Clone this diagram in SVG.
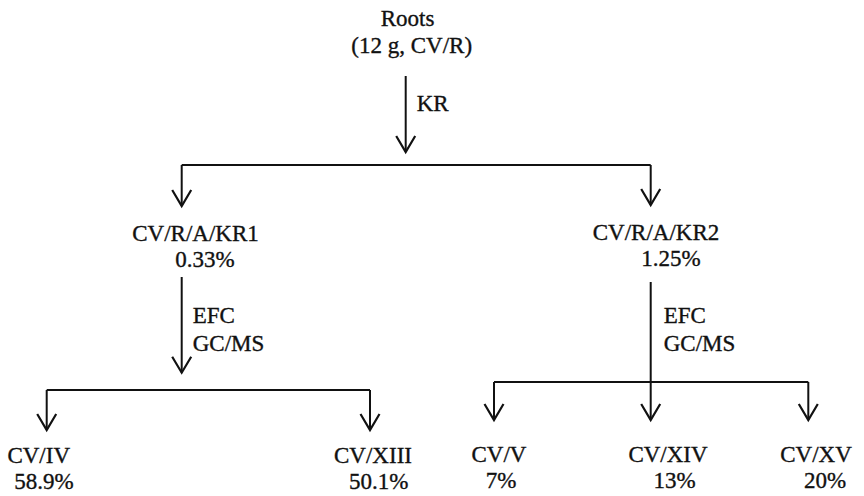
<svg xmlns="http://www.w3.org/2000/svg" width="864" height="496" viewBox="0 0 864 496">
<style>
text{font-family:"Liberation Serif","Times New Roman","DejaVu Serif",serif;font-size:23px;fill:#111;stroke:#111;stroke-width:0.35}
.c{text-anchor:middle}
.ln{fill:none;stroke:#111;stroke-width:2}
.ar{marker-end:url(#ah)}
</style>
<defs>
<marker id="ah" markerUnits="userSpaceOnUse" viewBox="-20 -20 40 40" markerWidth="40" markerHeight="40" refX="0" refY="0" orient="auto" overflow="visible">
<path d="M-16,-9.5 L0,0 L-16,9.5" fill="none" stroke="#111" stroke-width="2.2"/>
</marker>
</defs>
<rect width="864" height="496" fill="#fff"/>
<g id="connectors">
<path class="ln ar" d="M405.7,76 V152"/>
<path class="ln" d="M181.7,165 H650.7"/>
<path class="ln ar" d="M181.7,165 V206"/>
<path class="ln ar" d="M650.7,165 V205"/>
<path class="ln ar" d="M181.7,277 V372.7"/>
<path class="ln" d="M46.7,390 H370"/>
<path class="ln ar" d="M46.7,390 V430"/>
<path class="ln ar" d="M370,390 V430"/>
<path class="ln ar" d="M650.7,282 V420"/>
<path class="ln" d="M494,382 H808.3"/>
<path class="ln ar" d="M494,382 V420"/>
<path class="ln ar" d="M808.3,382 V420"/>
<text x="416.7" y="110.7">KR</text>
<text x="192.7" y="323.3">EFC</text>
<text x="192.7" y="351">GC/MS</text>
<text x="663.7" y="323.3">EFC</text>
<text x="663.7" y="351">GC/MS</text>
</g>
<g id="roots">
<text class="c" x="407.5" y="26">Roots</text>
<text class="c" x="411.7" y="53">(12 g, CV/R)</text>
</g>
<g id="kr1">
<text class="c" x="195.5" y="241">CV/R/A/KR1</text>
<text class="c" x="205" y="267">0.33%</text>
</g>
<g id="kr2">
<text class="c" x="656" y="240">CV/R/A/KR2</text>
<text class="c" x="671" y="266">1.25%</text>
</g>
<g id="cv4">
<text class="c" x="38.7" y="463">CV/IV</text>
<text class="c" x="44" y="489">58.9%</text>
</g>
<g id="cv13">
<text class="c" x="373" y="463">CV/XIII</text>
<text class="c" x="378.7" y="489">50.1%</text>
</g>
<g id="cv5">
<text class="c" x="499" y="462">CV/V</text>
<text class="c" x="501" y="488">7%</text>
</g>
<g id="cv14">
<text class="c" x="668" y="462">CV/XIV</text>
<text class="c" x="674.5" y="488">13%</text>
</g>
<g id="cv15">
<text class="c" x="816" y="462">CV/XV</text>
<text class="c" x="825" y="488">20%</text>
</g>
</svg>
